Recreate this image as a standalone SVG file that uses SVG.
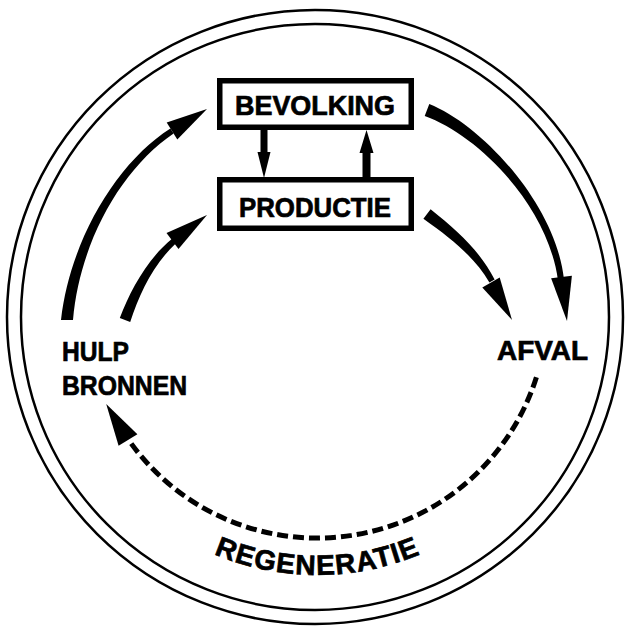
<svg xmlns="http://www.w3.org/2000/svg" width="626" height="627" viewBox="0 0 626 627">
<style>
.ring{fill:none;stroke:#000;stroke-width:2.5}
.box{fill:#fff;stroke:#000;stroke-width:5.5}
.lbl{font-family:"Liberation Sans",Arial,sans-serif;font-weight:bold;font-size:27px;fill:#000;stroke:#000;stroke-width:0.7}
.blk{fill:#000;stroke:none}
.dash{fill:none;stroke:#000;stroke-width:5;stroke-dasharray:11 5}
</style>
<rect width="626" height="627" fill="#fff"/>
<g id="rings">
<ellipse class="ring" cx="315" cy="317" rx="308" ry="307"/>
<ellipse class="ring" cx="315" cy="317" rx="294" ry="293"/>
</g>
<g id="bevolking">
<rect class="box" x="219.75" y="80.75" width="191.5" height="46.5"/>
<text class="lbl" x="235" y="115" textLength="160" lengthAdjust="spacingAndGlyphs">BEVOLKING</text>
</g>
<g id="productie">
<rect class="box" x="219.75" y="179.75" width="191.5" height="48.5"/>
<text class="lbl" x="239" y="217" textLength="152" lengthAdjust="spacingAndGlyphs">PRODUCTIE</text>
</g>
<g id="hulpbronnen">
<text class="lbl" x="62" y="361" textLength="67" lengthAdjust="spacingAndGlyphs">HULP</text>
<text class="lbl" x="62" y="395" textLength="125" lengthAdjust="spacingAndGlyphs">BRONNEN</text>
</g>
<g id="afval">
<text class="lbl" x="497" y="360" textLength="91" lengthAdjust="spacingAndGlyphs">AFVAL</text>
</g>
<g id="connectors">
<path class="blk" d="M260.5 130 H267.5 V152 H270.5 L264 178 L257.5 152 H260.5 Z"/>
<path class="blk" d="M362.5 177 H370.5 V153 H373.5 L366.5 130 L359.5 153 H362.5 Z"/>
<path class="blk" d="M61 320 C70 239.5 117.8 161.7 170.4 128.5 L173.6 133.5 C122.2 168.3 80 240.5 73 320 Z"/>
<polygon class="blk" points="207,109 166.7,122.5 177.3,139.5"/>
<path class="blk" d="M119.8 318.1 C130.3 290.3 147.4 259 172 238.75 L176 243.25 C152.6 265 139.7 293.7 130.2 321.9 Z"/>
<polygon class="blk" points="207,215 166.5,233 178.5,249"/>
<path class="blk" d="M429.3 103.9 C481.9 124.9 556 204.5 564 279.6 L558 280.4 C548 205.5 478.1 135.1 424.7 116.1 Z"/>
<polygon class="blk" points="567,321 571.9,275.7 551.1,278.3"/>
<path class="blk" d="M430.6 209.2 C458 231 481.2 252.6 494.6 279.6 L489.4 282.4 C474.8 257.4 452 239 423.4 218.8 Z"/>
<polygon class="blk" points="512,320 499.7,277.6 482.3,287.4"/>
<path class="dash" d="M536.4 377.2 A230 230 0 0 1 128.4 439.6"/>
<polygon class="blk" points="106.2,404.1 137.4,434.3 118.6,445.7"/>
</g>
<g id="regeneratie">
<defs><path id="regpath" d="M145.4 512.5 A267 267 0 0 0 488.6 512.5"/></defs>
<text class="lbl" style="font-size:28px"><textPath href="#regpath" startOffset="50%" text-anchor="middle" textLength="212" lengthAdjust="spacing">REGENERATIE</textPath></text>
</g>
</svg>
